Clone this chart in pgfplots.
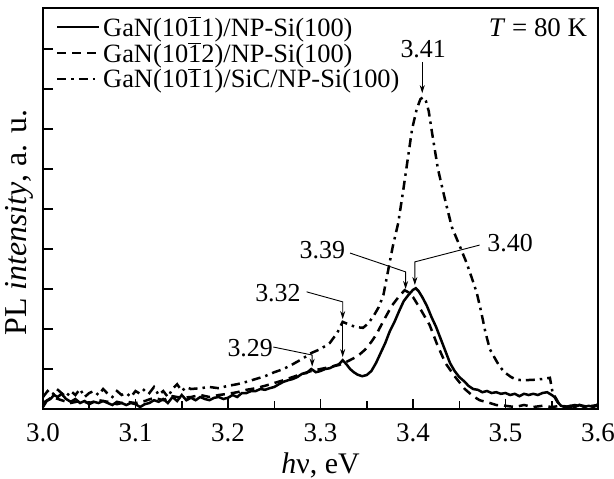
\documentclass[border=0pt]{standalone}
\usepackage{fontspec}
\setmainfont{Liberation Serif}
\usepackage{pgfplots}
\pgfplotsset{compat=1.18}
\usetikzlibrary{arrows.meta}
\newcommand{\ob}[1]{$\overline{\mbox{#1}}$}
\begin{document}
\begin{tikzpicture}
\begin{axis}[
  scale only axis, width=555bp, height=401bp,
  xmin=3.0, xmax=3.6, ymin=0, ymax=10.03,
  xtick={3.0,3.1,3.2,3.3,3.4,3.5,3.6},
  minor xtick={3.05,3.15,3.25,3.35,3.45,3.55},
  xticklabel style={yshift=-11bp, font=\fontsize{27}{30}\selectfont, /pgf/number format/.cd, fixed, fixed zerofill, precision=1},
  /pgf/number format/assume math mode=true,
  ytick={1,2,3,4,5,6,7,8,9}, yticklabels={},
  tick align=inside, tick pos=left,
  major tick length=10bp, minor tick length=8bp,
  axis line style={line width=2bp},
  every tick/.style={line width=1.5bp, black},
  font=\fontsize{25}{30}\selectfont,
  xlabel={\textit{h}ν, eV},
  every axis x label/.style={at={(axis description cs:0.5,-0.14)}, anchor=center, font=\fontsize{30}{32}\selectfont},
  ylabel={PL \textit{intensity}, a. u.},
  every axis y label/.style={at={(axis description cs:-0.043,0.465)}, anchor=center, rotate=90, font=\fontsize{32}{34}\selectfont},
  legend style={draw=none, fill=none, at={(0,1)}, anchor=north west, yshift=-4bp, xshift=11bp,
    font=\fontsize{26.5}{30}\selectfont, row sep=0bp, inner xsep=2bp, inner ysep=2bp,
    nodes={inner sep=2.5bp}},
  legend cell align=left,
  legend image code/.code={\draw[#1] (0bp,0bp) -- (42bp,0bp);},
  clip=false,
]
\addplot[black, line width=2.5bp, no marks] coordinates {
(3.000,0.05) (3.004,0.20) (3.008,0.25) (3.012,0.35) (3.016,0.30) (3.020,0.38) (3.025,0.25) (3.030,0.18) (3.035,0.25) (3.040,0.15)
(3.045,0.20) (3.050,0.12) (3.055,0.18) (3.060,0.15) (3.065,0.20) (3.070,0.15) (3.075,0.10) (3.080,0.18) (3.085,0.15) (3.090,0.10)
(3.095,0.15) (3.100,0.12) (3.105,0.05) (3.110,0.12) (3.115,0.15) (3.120,0.22) (3.125,0.18) (3.130,0.25) (3.135,0.15) (3.140,0.30)
(3.145,0.20) (3.150,0.35) (3.155,0.22) (3.160,0.28) (3.165,0.22) (3.170,0.30) (3.175,0.25) (3.180,0.22) (3.185,0.28) (3.190,0.30)
(3.195,0.25) (3.200,0.28) (3.205,0.35) (3.210,0.30) (3.215,0.40) (3.220,0.40) (3.225,0.45) (3.230,0.45) (3.235,0.50) (3.240,0.48)
(3.245,0.52) (3.250,0.55) (3.255,0.62) (3.260,0.68) (3.265,0.72) (3.270,0.75) (3.275,0.80) (3.280,0.88) (3.285,0.90) (3.290,1.00)
(3.295,0.92) (3.300,0.95) (3.305,1.00) (3.310,1.02) (3.315,1.08) (3.320,1.12) (3.324,1.22) (3.328,1.12) (3.332,1.00) (3.336,0.92)
(3.340,0.86) (3.345,0.82) (3.350,0.85) (3.355,0.95) (3.360,1.15) (3.365,1.40) (3.370,1.65) (3.375,1.95) (3.380,2.18) (3.385,2.45)
(3.390,2.70) (3.395,2.85) (3.400,2.98) (3.403,3.02) (3.406,2.95) (3.410,2.80) (3.415,2.58) (3.420,2.30) (3.425,2.05) (3.430,1.75)
(3.435,1.45) (3.440,1.15) (3.445,0.95) (3.450,0.80) (3.455,0.70) (3.460,0.58) (3.465,0.50) (3.470,0.48) (3.475,0.42) (3.480,0.45)
(3.485,0.40) (3.490,0.42) (3.495,0.38) (3.500,0.40) (3.505,0.35) (3.510,0.38) (3.515,0.32) (3.520,0.38) (3.525,0.35) (3.530,0.38)
(3.535,0.35) (3.540,0.40) (3.545,0.42) (3.550,0.35) (3.553,0.30) (3.556,0.18) (3.560,0.08) (3.565,0.05) (3.570,0.08) (3.575,0.05)
(3.580,0.10) (3.585,0.05) (3.590,0.08) (3.595,0.05) (3.600,0.12)
};
\addlegendentry{GaN(10\ob{1}1)/NP-Si(100)}
\addplot[black, line width=2.5bp, no marks, dash pattern=on 9bp off 6bp] coordinates {
(3.000,0.15) (3.010,0.30) (3.020,0.22) (3.030,0.15) (3.040,0.20) (3.050,0.15) (3.060,0.22) (3.070,0.18) (3.080,0.12) (3.090,0.18)
(3.100,0.15) (3.110,0.20) (3.120,0.28) (3.130,0.22) (3.140,0.32) (3.150,0.28) (3.160,0.30) (3.170,0.35) (3.180,0.30) (3.190,0.35)
(3.200,0.38) (3.210,0.42) (3.220,0.48) (3.230,0.52) (3.240,0.58) (3.250,0.65) (3.260,0.72) (3.270,0.80) (3.280,0.88) (3.290,0.95)
(3.300,1.00) (3.310,1.05) (3.320,1.10) (3.330,1.20) (3.340,1.32) (3.348,1.48) (3.355,1.68) (3.360,1.85) (3.368,2.20) (3.377,2.58)
(3.386,2.85) (3.391,2.97) (3.395,2.92) (3.400,2.80) (3.408,2.50) (3.418,2.10) (3.426,1.62) (3.435,1.15) (3.445,0.82) (3.456,0.50)
(3.465,0.32) (3.472,0.22) (3.483,0.15) (3.490,0.10) (3.500,0.08) (3.510,0.05) (3.520,0.10) (3.530,0.05) (3.540,0.08) (3.550,0.05)
(3.560,0.08) (3.570,0.05) (3.580,0.10) (3.590,0.05) (3.600,0.08)
};
\addlegendentry{GaN(10\ob{1}2)/NP-Si(100)}
\addplot[black, line width=2.5bp, no marks, dash pattern=on 9bp off 5bp on 2.5bp off 5bp] coordinates {
(3.000,0.30) (3.005,0.45) (3.010,0.35) (3.015,0.50) (3.020,0.40) (3.025,0.30) (3.030,0.45) (3.035,0.35) (3.040,0.50) (3.045,0.30)
(3.050,0.40) (3.055,0.45) (3.060,0.35) (3.065,0.50) (3.070,0.38) (3.075,0.30) (3.080,0.45) (3.085,0.35) (3.090,0.40) (3.095,0.30)
(3.100,0.45) (3.105,0.38) (3.110,0.50) (3.115,0.40) (3.120,0.55) (3.125,0.35) (3.130,0.45) (3.135,0.30) (3.140,0.50) (3.145,0.62)
(3.150,0.45) (3.155,0.55) (3.160,0.50) (3.170,0.52) (3.180,0.55) (3.190,0.52) (3.200,0.58) (3.210,0.62) (3.220,0.68) (3.230,0.75)
(3.240,0.82) (3.250,0.92) (3.260,1.00) (3.270,1.12) (3.280,1.25) (3.290,1.40) (3.300,1.50) (3.310,1.65) (3.318,1.90) (3.324,2.18)
(3.330,2.12) (3.338,2.05) (3.346,2.03) (3.352,2.15) (3.358,2.35) (3.363,2.55) (3.368,2.85) (3.373,3.45) (3.378,4.05) (3.384,4.65)
(3.389,5.40) (3.394,6.20) (3.399,7.00) (3.404,7.50) (3.408,7.75) (3.411,7.80) (3.414,7.70) (3.417,7.45) (3.421,6.85) (3.427,6.00)
(3.435,5.20) (3.442,4.55) (3.451,4.05) (3.458,3.65) (3.464,3.25) (3.469,2.90) (3.474,2.40) (3.478,1.95) (3.483,1.50) (3.489,1.25)
(3.494,1.05) (3.500,0.90) (3.506,0.80) (3.512,0.73) (3.520,0.72) (3.530,0.73) (3.540,0.75) (3.548,0.78) (3.551,0.40) (3.555,0.25)
(3.559,0.08) (3.565,0.05) (3.575,0.10) (3.585,0.05) (3.600,0.10)
};
\addlegendentry{GaN(10\ob{1}1)/SiC/NP-Si(100)}
% annotations
\node[anchor=east, font=\fontsize{27}{29}\selectfont] at (axis cs:3.592,9.55) {\textit{T} = 80 K};
\tikzset{ann/.style={line width=0.9bp, -{Stealth[length=8bp,width=5bp]}}}
\node[font=\fontsize{26}{28}\selectfont] at (axis cs:3.411,9.0) {3.41};
\draw[ann] (axis cs:3.41,8.68) -- (axis cs:3.41,7.9);
\node[font=\fontsize{26}{28}\selectfont] at (axis cs:3.505,4.15) {3.40};
\draw[ann] (axis cs:3.472,4.1) -- (axis cs:3.402,3.68) -- (axis cs:3.402,3.1);
\node[font=\fontsize{26}{28}\selectfont] at (axis cs:3.302,3.98) {3.39};
\draw[ann] (axis cs:3.332,3.9) -- (axis cs:3.392,3.43) -- (axis cs:3.392,3.0);
\node[font=\fontsize{26}{28}\selectfont] at (axis cs:3.254,2.9) {3.32};
\draw[ann] (axis cs:3.285,2.93) -- (axis cs:3.324,2.68) -- (axis cs:3.324,2.25);
\draw[ann] (axis cs:3.324,2.2) -- (axis cs:3.324,1.3);
\node[font=\fontsize{26}{28}\selectfont] at (axis cs:3.224,1.53) {3.29};
\draw[ann] (axis cs:3.249,1.55) -- (axis cs:3.291,1.35) -- (axis cs:3.291,1.06);
\end{axis}
\pgfresetboundingbox
\path ([shift={(-43bp,-70bp)}]current axis.south west) rectangle ([shift={(16bp,8bp)}]current axis.north east);
\end{tikzpicture}
\end{document}
